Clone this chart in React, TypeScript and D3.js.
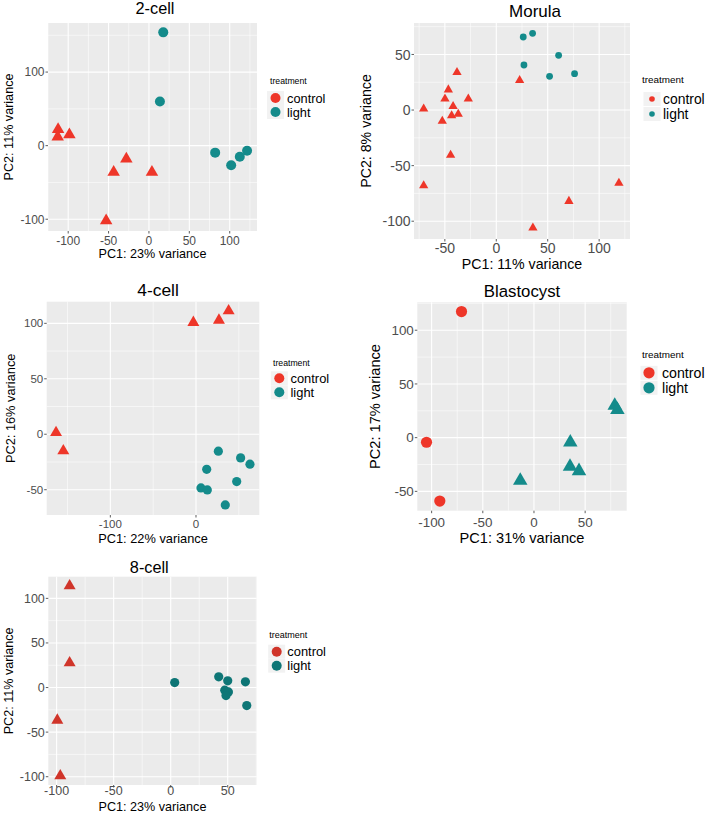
import * as d3 from 'd3';
import React from 'react';

// ---- data (PC1 / PC2 per sample) ----
const twoCellControlPC1 = [-112.5, -113, -98.5, -28, -43.7, 3.7, -53];
const twoCellControlPC2 = [22, 12, 15, -18, -36, -36, -102];
const twoCellLightPC1 = [17.7, 13.6, 82, 101.8, 112.5, 121.5];
const twoCellLightPC2 = [154, 60, -9.5, -26.7, -15, -7];

const morulaControlPC1 = [-70.6, -70.6, -38.2, -46.6, -49.9, -27.2, -42, -43.4, -37, -52.5, -44.4, 22.7, 119.2, 70.6, 35.6];
const morulaControlPC2 = [1, -68, 34, 18.3, 10, 10, 3.3, -5, -3.6, -10, -40.5, 26.7, -65.7, -82, -106];
const morulaLightPC1 = [26.2, 35.3, 60.6, 26.9, 51.8, 76.1];
const morulaLightPC2 = [65.7, 69, 49.2, 40.5, 30.3, 32.7];

const fourCellControlPC1 = [-163.4, -154.9, -3.1, 26.8, 38.1];
const fourCellControlPC2 = [1.5, -15, 100.7, 102.8, 111.2];
const fourCellLightPC1 = [26.1, 12.5, 52.1, 63, 47.5, 5.8, 13.2, 34.2];
const fourCellLightPC2 = [-15.3, -31.6, -21.3, -27, -42.7, -48.4, -50.2, -63.7];

const blastControlPC1 = [-70.8, -105, -92];
const blastControlPC2 = [117.4, -4.3, -59];
const blastLightPC1 = [78.9, 81.5, 35.5, 35.2, 44, -13.4];
const blastLightPC2 = [29.8, 25.8, -4.3, -27, -31, -40];

const eightCellControlPC1 = [-88.6, -88.6, -99.4, -96.8];
const eightCellControlPC2 = [114, 27.7, -36.6, -99];
const eightCellLightPC1 = [3.5, 42.1, 50, 65.5, 47.4, 50.6, 48.5, 66.7];
const eightCellLightPC2 = [5.6, 12, 7.5, 6.4, -3, -4.9, -9, -20.2];

// tick labels
const twoCellXTicks = [-100, -50, 0, 50, 100];
const twoCellYTicks = [-100, 0, 100];
const morulaXTicks = [-50, 0, 50, 100];
const morulaYTicks = [-100, -50, 0, 50];
const fourCellXTicks = [-100, 0];
const fourCellYTicks = [-50, 0, 50, 100];
const blastXTicks = [-100, -50, 0, 50];
const blastYTicks = [-50, 0, 50, 100];
const eightCellXTicks = [-100, -50, 0, 50];
const eightCellYTicks = [-100, -50, 0, 50, 100];

const legendLabels = ['control', 'light'];

type Shape = 'circle' | 'triangle';

interface PanelSpec {
    title: string;
    xLabel: string;
    yLabel: string;
    box: { x: number; y: number; w: number; h: number };
    xDomain: [number, number];
    yDomain: [number, number];
    xTicks: number[];
    yTicks: number[];
    control: [number[], number[]];
    light: [number[], number[]];
    controlShape: Shape;
    lightShape: Shape;
    colors: [string, string];
    r: number;
    tri: number;
    fonts: { title: number; axis: number; tick: number; legTitle: number; legLabel: number };
    titleX: number;
    titleY: number;
    xTickY: number;
    xTitleY: number;
    yTitleX: number;
    legend: { x: number; titleY: number; keyX: number; keyY: number[]; labelX: number; keyR: number };
}

const RED = '#EE3629';
const TEAL = '#148B8B';

const panels: PanelSpec[] = [
    {
        title: '2-cell', xLabel: 'PC1: 23% variance', yLabel: 'PC2: 11% variance',
        box: { x: 48, y: 23, w: 209, h: 208 },
        xDomain: [-125, 133.8], yDomain: [-116, 166.7],
        xTicks: twoCellXTicks, yTicks: twoCellYTicks,
        control: [twoCellControlPC1, twoCellControlPC2], light: [twoCellLightPC1, twoCellLightPC2],
        controlShape: 'triangle', lightShape: 'circle', colors: [RED, TEAL],
        r: 5, tri: 12.5,
        fonts: { title: 16.3, axis: 12.6, tick: 12, legTitle: 8.7, legLabel: 12.8 },
        titleX: 155, titleY: 14, xTickY: 245, xTitleY: 258, yTitleX: 13,
        legend: { x: 270, titleY: 84, keyX: 275.5, keyY: [98, 112], labelX: 287, keyR: 5 },
    },
    {
        title: 'Morula', xLabel: 'PC1: 11% variance', yLabel: 'PC2: 8% variance',
        box: { x: 414, y: 23, w: 216, h: 216 },
        xDomain: [-80, 130], yDomain: [-116, 78.3],
        xTicks: morulaXTicks, yTicks: morulaYTicks,
        control: [morulaControlPC1, morulaControlPC2], light: [morulaLightPC1, morulaLightPC2],
        controlShape: 'triangle', lightShape: 'circle', colors: [RED, TEAL],
        r: 3.4, tri: 9.3,
        fonts: { title: 17, axis: 14.2, tick: 14, legTitle: 9.9, legLabel: 13.9 },
        titleX: 535, titleY: 17, xTickY: 253, xTitleY: 268.5, yTitleX: 371,
        legend: { x: 642, titleY: 83, keyX: 652, keyY: [99, 114], labelX: 663, keyR: 2.8 },
    },
    {
        title: '4-cell', xLabel: 'PC1: 22% variance', yLabel: 'PC2: 16% variance',
        box: { x: 46.7, y: 301.7, w: 212.6, h: 213.3 },
        xDomain: [-174.3, 73.9], yDomain: [-72.8, 119.5],
        xTicks: fourCellXTicks, yTicks: fourCellYTicks,
        control: [fourCellControlPC1, fourCellControlPC2], light: [fourCellLightPC1, fourCellLightPC2],
        controlShape: 'triangle', lightShape: 'circle', colors: [RED, TEAL],
        r: 4.6, tri: 12,
        fonts: { title: 17.4, axis: 12.8, tick: 11.5, legTitle: 8.7, legLabel: 12.9 },
        titleX: 158, titleY: 296, xTickY: 527.5, xTitleY: 543, yTitleX: 15,
        legend: { x: 273, titleY: 365.5, keyX: 279.3, keyY: [378.3, 392.3], labelX: 290.5, keyR: 5 },
    },
    {
        title: 'Blastocyst', xLabel: 'PC1: 31% variance', yLabel: 'PC2: 17% variance',
        box: { x: 417.3, y: 302.3, w: 209.4, h: 208.4 },
        xDomain: [-114, 90.6], yDomain: [-68, 126],
        xTicks: blastXTicks, yTicks: blastYTicks,
        control: [blastControlPC1, blastControlPC2], light: [blastLightPC1, blastLightPC2],
        controlShape: 'circle', lightShape: 'triangle', colors: [RED, TEAL],
        r: 5.6, tri: 14.5,
        fonts: { title: 16.8, axis: 14.6, tick: 13.4, legTitle: 9.9, legLabel: 14.2 },
        titleX: 522, titleY: 297, xTickY: 526.5, xTitleY: 543, yTitleX: 380,
        legend: { x: 642, titleY: 357.5, keyX: 649, keyY: [372.8, 387.8], labelX: 662, keyR: 5.6 },
    },
    {
        title: '8-cell', xLabel: 'PC1: 23% variance', yLabel: 'PC2: 11% variance',
        box: { x: 48.3, y: 576.7, w: 208.4, h: 208.3 },
        xDomain: [-107.3, 75.4], yDomain: [-109.3, 124.3],
        xTicks: eightCellXTicks, yTicks: eightCellYTicks,
        control: [eightCellControlPC1, eightCellControlPC2], light: [eightCellLightPC1, eightCellLightPC2],
        controlShape: 'triangle', lightShape: 'circle', colors: ['#D0352A', '#0E7676'],
        r: 4.6, tri: 12,
        fonts: { title: 16.3, axis: 12.6, tick: 12.5, legTitle: 9, legLabel: 12.9 },
        titleX: 149.3, titleY: 573, xTickY: 795, xTitleY: 811, yTitleX: 13,
        legend: { x: 269.3, titleY: 638.3, keyX: 276.7, keyY: [651.7, 665.7], labelX: 287.3, keyR: 5 },
    },
];

const FONT = '"Liberation Sans", Arial, Helvetica, sans-serif';

function minorBreaks(ticks: number[], domain: [number, number]) {
    const step = ticks.length > 1 ? ticks[1] - ticks[0] : 100;
    const out: number[] = [];
    for (let v = ticks[0] - step / 2; v <= domain[1]; v += step) {
        if (v >= domain[0] && !ticks.includes(v)) out.push(v);
    }
    return out;
}

function Mark({ shape, x, y, r, tri, color }: { shape: Shape; x: number; y: number; r: number; tri: number; color: string }) {
    if (shape === 'circle') return <circle cx={x} cy={y} r={r} fill={color} />;
    const h = (tri * Math.sqrt(3)) / 2;
    const pts = [
        [x, y - (2 * h) / 3],
        [x + tri / 2, y + h / 3],
        [x - tri / 2, y + h / 3],
    ];
    return <polygon points={pts.map((p) => p.join(',')).join(' ')} fill={color} />;
}

function Panel({ p }: { p: PanelSpec }) {
    const { box } = p;
    const x = d3.scaleLinear().domain(p.xDomain).range([box.x, box.x + box.w]);
    const y = d3.scaleLinear().domain(p.yDomain).range([box.y + box.h, box.y]);
    const xMinor = minorBreaks(p.xTicks, p.xDomain);
    const yMinor = minorBreaks(p.yTicks, p.yDomain);
    const groups: [number[], number[], Shape, string][] = [
        [p.control[0], p.control[1], p.controlShape, p.colors[0]],
        [p.light[0], p.light[1], p.lightShape, p.colors[1]],
    ];

    return (
        <g fontFamily={FONT}>
            <text x={p.titleX} y={p.titleY} textAnchor="middle" fontSize={p.fonts.title} fill="#000">
                {p.title}
            </text>
            <rect x={box.x} y={box.y} width={box.w} height={box.h} fill="#EBEBEB" />
            {xMinor.map((v) => (
                <line key={`xm${v}`} x1={x(v)} x2={x(v)} y1={box.y} y2={box.y + box.h} stroke="#fff" strokeWidth={0.55} />
            ))}
            {yMinor.map((v) => (
                <line key={`ym${v}`} x1={box.x} x2={box.x + box.w} y1={y(v)} y2={y(v)} stroke="#fff" strokeWidth={0.55} />
            ))}
            {p.xTicks.map((v) => (
                <line key={`xg${v}`} x1={x(v)} x2={x(v)} y1={box.y} y2={box.y + box.h} stroke="#fff" strokeWidth={1.1} />
            ))}
            {p.yTicks.map((v) => (
                <line key={`yg${v}`} x1={box.x} x2={box.x + box.w} y1={y(v)} y2={y(v)} stroke="#fff" strokeWidth={1.1} />
            ))}

            {groups.map(([xs, ys, shape, color], gi) =>
                xs.map((xv, i) => (
                    <Mark key={`${gi}-${i}`} shape={shape} x={x(xv)} y={y(ys[i])} r={p.r} tri={p.tri} color={color} />
                ))
            )}

            {/* axes */}
            {p.xTicks.map((v) => (
                <g key={`xt${v}`}>
                    <line x1={x(v)} x2={x(v)} y1={box.y + box.h} y2={box.y + box.h + 2.5} stroke="#333" strokeWidth={0.8} />
                    <text x={x(v)} y={p.xTickY} textAnchor="middle" fontSize={p.fonts.tick} fill="#4D4D4D">
                        {v}
                    </text>
                </g>
            ))}
            {p.yTicks.map((v) => (
                <g key={`yt${v}`}>
                    <line x1={box.x - 2.5} x2={box.x} y1={y(v)} y2={y(v)} stroke="#333" strokeWidth={0.8} />
                    <text x={box.x - 3.5} y={y(v)} dy="0.36em" textAnchor="end" fontSize={p.fonts.tick} fill="#4D4D4D">
                        {v}
                    </text>
                </g>
            ))}
            <text x={box.x + box.w / 2} y={p.xTitleY} textAnchor="middle" fontSize={p.fonts.axis} fill="#000">
                {p.xLabel}
            </text>
            <text
                transform={`translate(${p.yTitleX},${box.y + box.h / 2}) rotate(-90)`}
                textAnchor="middle"
                fontSize={p.fonts.axis}
                fill="#000"
            >
                {p.yLabel}
            </text>

            {/* legend */}
            <text x={p.legend.x} y={p.legend.titleY} fontSize={p.fonts.legTitle} fill="#000">
                treatment
            </text>
            {legendLabels.map((lab, i) => (
                <g key={lab}>
                    <rect x={p.legend.keyX - 8.5} y={p.legend.keyY[i] - 7} width={17} height={14} fill="#F2F2F2" />
                    <circle cx={p.legend.keyX} cy={p.legend.keyY[i]} r={p.legend.keyR} fill={p.colors[i]} />
                    <text x={p.legend.labelX} y={p.legend.keyY[i]} dy="0.36em" fontSize={p.fonts.legLabel} fill="#000">
                        {lab}
                    </text>
                </g>
            ))}
        </g>
    );
}

export default function App() {
    return (
        <svg
            width={708}
            height={815}
            style={{ position: 'absolute', left: 0, top: 0, background: '#fff', display: 'block' }}
        >
            {panels.map((p) => (
                <Panel key={p.title} p={p} />
            ))}
        </svg>
    );
}
